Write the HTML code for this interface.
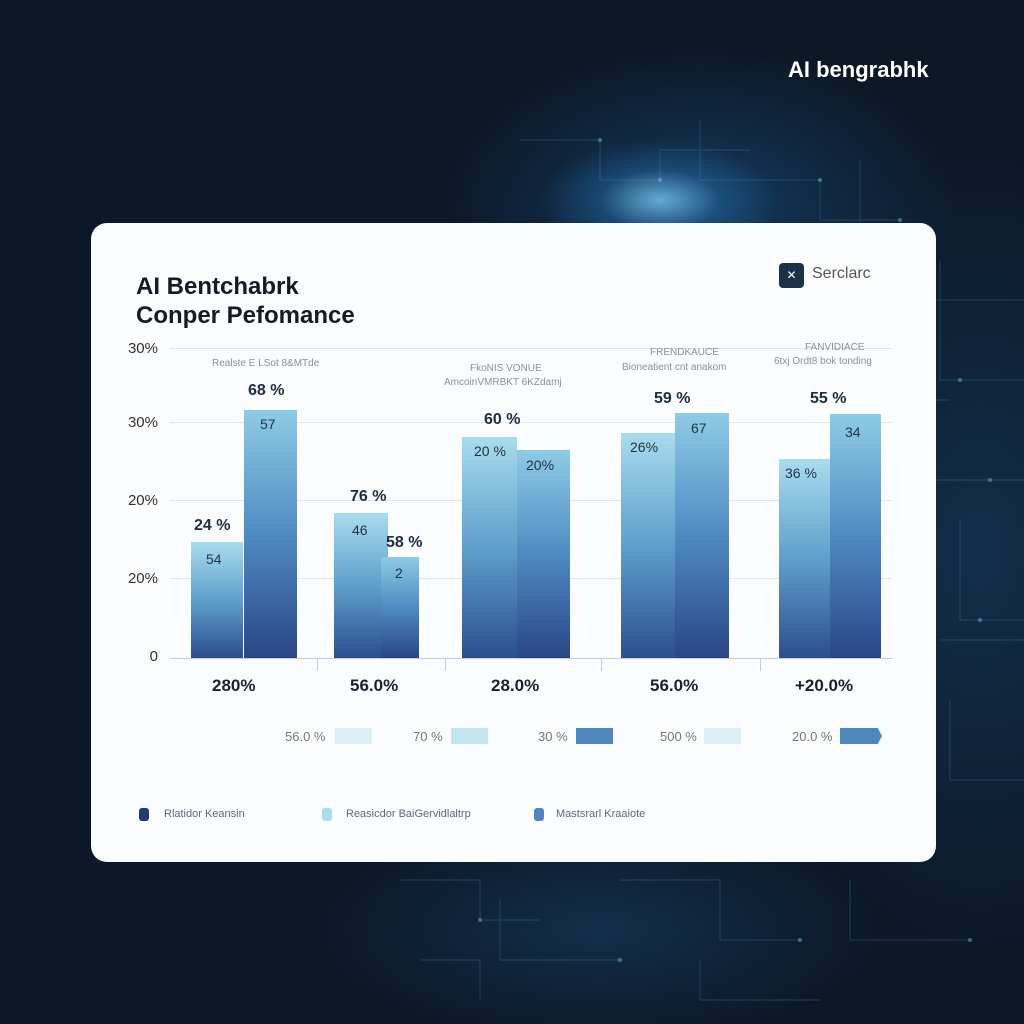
<!DOCTYPE html>
<html><head><meta charset="utf-8"><style>
*{margin:0;padding:0;box-sizing:border-box}
body{width:1024px;height:1024px;overflow:hidden;font-family:"Liberation Sans",sans-serif;position:relative;
background:radial-gradient(ellipse 120px 60px at 660px 200px,rgba(120,200,240,.8),rgba(40,120,190,.35) 50%,transparent 100%),
radial-gradient(ellipse 320px 200px at 700px 210px,rgba(30,100,160,.45),transparent 80%),
radial-gradient(ellipse 300px 500px at 980px 550px,rgba(30,90,140,.35),transparent 80%),
radial-gradient(ellipse 350px 140px at 600px 930px,rgba(30,90,140,.35),transparent 80%),#0c1828;}
.t{position:absolute;white-space:nowrap}
.card{position:absolute;left:91px;top:223px;width:845px;height:639px;background:#fbfcfd;border-radius:16px}
.bar{position:absolute;background:linear-gradient(#a9dcee,#5f9fcc 50%,#2c4f8e)}
.bar.b{background:linear-gradient(#8ecbe6,#4f8bc2 50%,#2a4686)}
.g{position:absolute;left:170px;width:722px;height:1px;background:#e2e6ea}
.yl{position:absolute;left:112px;font-size:15px;color:#333;width:46px;text-align:right}
.v{position:absolute;font-size:16px;color:#1e2e40;font-weight:bold}
.iv{position:absolute;font-size:14px;color:#234;}
.xl{position:absolute;top:676px;font-size:17px;font-weight:bold;color:#1a2230}
.sm{position:absolute;font-size:10px;color:#8a9098}
.lg{position:absolute;top:729px;font-size:13px;color:#777}
</style></head><body>
<svg class="t" style="left:0;top:0" width="1024" height="1024">
<g stroke="rgba(80,170,220,.25)" stroke-width="1" fill="none">
<path d="M520 140h80v40h60v-30h90M700 120v60h120v40h80M860 160v80h60v60h104M940 260v120h84M950 400h-40v80h114M960 520v100h64M940 640h84M950 700v80h74"/>
<path d="M400 880h80v40h60M500 900v60h120M620 880h100v60h80M700 960v40h120M420 960h60v40M850 880v60h120"/>
</g>
<g fill="rgba(110,200,240,.45)">
<circle cx="600" cy="140" r="2"/><circle cx="660" cy="180" r="2"/><circle cx="820" cy="180" r="2"/><circle cx="900" cy="220" r="2"/><circle cx="920" cy="300" r="2"/><circle cx="960" cy="380" r="2"/><circle cx="990" cy="480" r="2"/><circle cx="980" cy="620" r="2"/><circle cx="480" cy="920" r="2"/><circle cx="620" cy="960" r="2"/><circle cx="800" cy="940" r="2"/><circle cx="970" cy="940" r="2"/>
</g></svg>
<div class="t" style="left:788px;top:57px;color:#fff;font-size:22px;font-weight:bold">AI bengrabhk</div>
<div class="card"></div>
<div class="t" style="left:136px;top:272px;font-size:24px;font-weight:bold;color:#151b24;line-height:29px">AI Bentchabrk<br>Conper Pefomance</div>
<div class="t" style="left:779px;top:263px;width:25px;height:25px;background:#1c3048;border-radius:4px;color:#fff;font-size:12px;text-align:center;line-height:25px">✕</div>
<div class="t" style="left:812px;top:265px;font-size:16px;color:#555">Serclarc</div>
<div class="g" style="top:348px"></div><div class="g" style="top:422px"></div><div class="g" style="top:500px"></div><div class="g" style="top:578px"></div><div class="g" style="top:658px;background:#c8ccd2"></div>
<div class="yl" style="top:340px">30%</div><div class="yl" style="top:414px">30%</div><div class="yl" style="top:492px">20%</div><div class="yl" style="top:570px">20%</div><div class="yl" style="top:648px">0</div>
<div class="t" style="left:317px;top:659px;width:1px;height:12px;background:#ccc"></div>
<div class="t" style="left:445px;top:659px;width:1px;height:12px;background:#ccc"></div>
<div class="t" style="left:601px;top:659px;width:1px;height:12px;background:#ccc"></div>
<div class="t" style="left:760px;top:659px;width:1px;height:12px;background:#ccc"></div>
<div class="bar" style="left:191px;width:52px;height:116px;top:542px"></div>
<div class="bar b" style="left:244px;width:53px;height:248px;top:410px"></div>
<div class="bar" style="left:334px;width:54px;height:145px;top:513px"></div>
<div class="bar b" style="left:381px;width:38px;height:101px;top:557px"></div>
<div class="bar" style="left:462px;width:55px;height:221px;top:437px"></div>
<div class="bar b" style="left:517px;width:53px;height:208px;top:450px"></div>
<div class="bar" style="left:621px;width:54px;height:225px;top:433px"></div>
<div class="bar b" style="left:675px;width:54px;height:245px;top:413px"></div>
<div class="bar" style="left:779px;width:51px;height:199px;top:459px"></div>
<div class="bar b" style="left:830px;width:51px;height:244px;top:414px"></div>
<div class="v" style="left:194px;top:517px">24 %</div>
<div class="v" style="left:248px;top:382px">68 %</div>
<div class="v" style="left:350px;top:488px">76 %</div>
<div class="v" style="left:386px;top:534px">58 %</div>
<div class="v" style="left:484px;top:411px">60 %</div>
<div class="v" style="left:654px;top:390px">59 %</div>
<div class="v" style="left:810px;top:390px">55 %</div>
<div class="iv" style="left:206px;top:551px">54</div>
<div class="iv" style="left:260px;top:416px">57</div>
<div class="iv" style="left:352px;top:522px">46</div>
<div class="iv" style="left:395px;top:565px">2</div>
<div class="iv" style="left:474px;top:443px">20 %</div>
<div class="iv" style="left:526px;top:457px">20%</div>
<div class="iv" style="left:630px;top:439px">26%</div>
<div class="iv" style="left:691px;top:420px">67</div>
<div class="iv" style="left:785px;top:465px">36 %</div>
<div class="iv" style="left:845px;top:424px">34</div>
<div class="sm" style="left:212px;top:358px">Realste E LSot 8&amp;MTde</div>
<div class="sm" style="left:470px;top:363px">FkoNIS VONUE</div>
<div class="sm" style="left:444px;top:377px">AmcoinVMRBKT 6KZdamj</div>
<div class="sm" style="left:650px;top:347px">FRENDKAUCE</div>
<div class="sm" style="left:622px;top:362px">Bioneatient cnt anakom</div>
<div class="sm" style="left:805px;top:342px">FANVIDIACE</div>
<div class="sm" style="left:774px;top:356px">6txj Ordt8 bok tonding</div>
<div class="xl" style="left:212px">280%</div>
<div class="xl" style="left:350px">56.0%</div>
<div class="xl" style="left:491px">28.0%</div>
<div class="xl" style="left:650px">56.0%</div>
<div class="xl" style="left:795px">+20.0%</div>
<div class="lg" style="left:285px">56.0 %</div><div class="t" style="left:335px;top:728px;width:37px;height:16px;background:#dceef6"></div>
<div class="lg" style="left:413px">70 %</div><div class="t" style="left:451px;top:728px;width:37px;height:16px;background:#c4e4f2"></div>
<div class="lg" style="left:538px">30 %</div><div class="t" style="left:576px;top:728px;width:37px;height:16px;background:#4f86bd"></div>
<div class="lg" style="left:660px">500 %</div><div class="t" style="left:704px;top:728px;width:37px;height:16px;background:#dceef6"></div>
<div class="lg" style="left:792px">20.0 %</div><div class="t" style="left:840px;top:728px;width:42px;height:16px;background:#4f86bd;clip-path:polygon(0 0,90% 0,100% 50%,90% 100%,0 100%)"></div>
<div class="t" style="left:139px;top:808px;width:10px;height:13px;background:#1f3d72;border-radius:3px"></div>
<div class="t" style="left:164px;top:808px;font-size:11px;color:#667">Rlatidor Keansin</div>
<div class="t" style="left:322px;top:808px;width:10px;height:13px;background:#a9dcee;border-radius:3px"></div>
<div class="t" style="left:346px;top:808px;font-size:11px;color:#667">Reasicdor BaiGervidlaltrp</div>
<div class="t" style="left:534px;top:808px;width:10px;height:13px;background:#4f86bd;border-radius:3px"></div>
<div class="t" style="left:556px;top:808px;font-size:11px;color:#667">Mastsrarl Kraaiote</div>
</body></html>
